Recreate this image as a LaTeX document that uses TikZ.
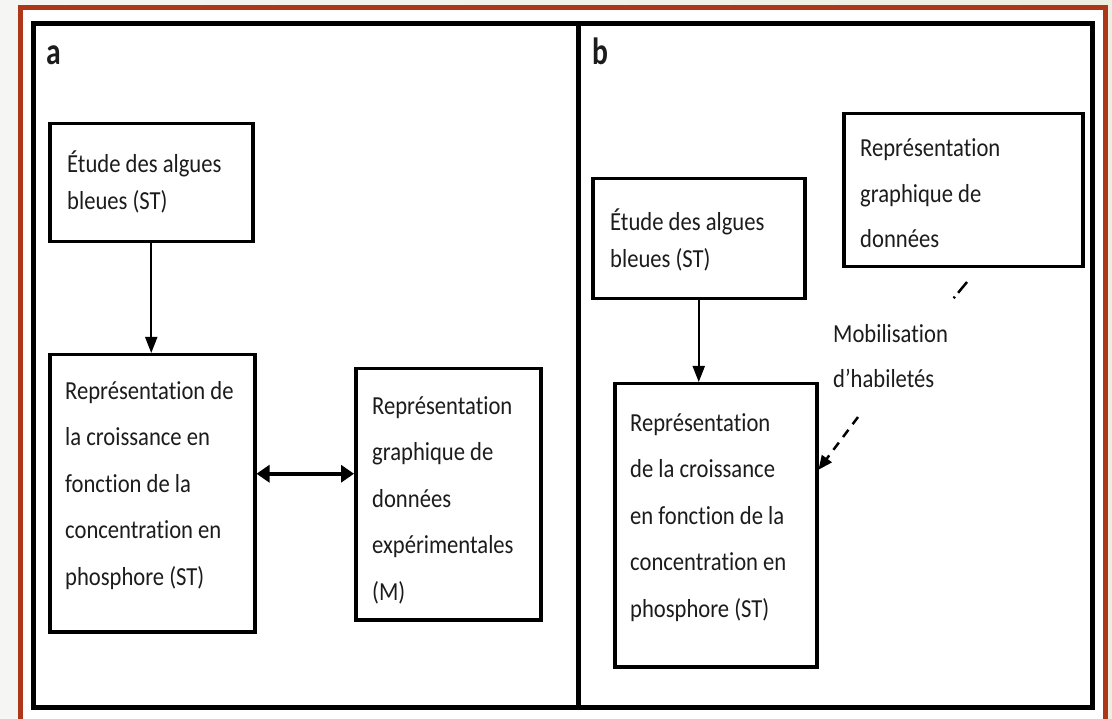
\documentclass[tikz,border=0pt]{standalone}
\usepackage{fontspec}
\setmainfont{Carlito}[FakeStretch=0.87, Ligatures=NoCommon]
\newfontfamily\lettrefont{Carlito}[FakeStretch=0.78]
\usepackage{tikz}
\usetikzlibrary{arrows.meta,calc,positioning}
\definecolor{rouille}{RGB}{175,55,25}
\definecolor{encre}{RGB}{28,28,28}
\definecolor{fondg}{RGB}{245,245,243}
\definecolor{fondd}{RGB}{237,239,224}

\begin{document}
\begin{tikzpicture}[
    x=1pt, y=-1pt,
    bloc/.style={draw, line width=3.5pt, rectangle, inner sep=0, anchor=north west},
    % texte: ancre sur la ligne de base de la derniere ligne
    texte/.style={anchor=base west, align=left, inner sep=0, text=encre, font=\fontsize{26}{46.5}\selectfont},
    texteserre/.style={texte, font=\fontsize{26}{37}\selectfont},
    lettre/.style={anchor=base west, inner sep=0, text=encre, font=\lettrefont\bfseries\fontsize{38}{38}\selectfont},
    fleche/.style={line width=2pt, -{Triangle[length=16pt, width=12pt]}},
    doublefleche/.style={line width=4pt, {Triangle[length=13pt, width=17pt]}-{Triangle[length=13pt, width=17pt]}},
    tirets/.style={line width=2.5pt, dash pattern=on 9pt off 7pt},
  ]
\useasboundingbox (0,0) rectangle (1112,719);
\clip (0,0) rectangle (1112,719);

% fond et cadres
\shade[left color=fondg, right color=fondd] (0,0) rectangle (1112,719);
\draw[rouille, line width=5pt, fill=white] (20.5,7.5) rectangle (1105.5,730);
\draw[line width=5pt] (33,23.5) rectangle (1092,707.5);
\draw[line width=4.5pt] (578.5,23.5) -- (578.5,707.5);

% panneau a
\node[lettre] (la) at (46,65) {a};
\node[bloc, minimum width=203, minimum height=118] (b1) at (48,122) {};
\node[texteserre] (t1) at (67,210) {Étude des algues\\bleues (ST)};
\node[bloc, minimum width=205, minimum height=277] (b2) at (48,353) {};
\node[texte] (t2) at (65,585) {Représentation de\\la croissance en\\fonction de la\\concentration en\\phosphore (ST)};
\node[bloc, minimum width=185, minimum height=251] (b3) at (354,367) {};
\node[texte] (t3) at (372,600) {Représentation\\graphique de\\données\\expérimentales\\(M)};

\draw[fleche] (b1.south) -- (b1.south |- b2.north);
\draw[doublefleche] ([yshift=19.5pt]b2.east) -- ([yshift=19.5pt]b2.east -| b3.west);

% panneau b
\node[lettre] (lb) at (592,65) {b};
\node[bloc, minimum width=212, minimum height=120] (b4) at (591,177) {};
\node[texteserre] (t4) at (610,268) {Étude des algues\\bleues (ST)};
\node[bloc, minimum width=239, minimum height=153] (b5) at (842,112) {};
\node[texte, font=\fontsize{26}{45.5}\selectfont] (t5) at (860,248) {Représentation\\graphique de\\données};
\node[bloc, minimum width=202, minimum height=283] (b6) at (613,382) {};
\node[texte] (t6) at (630,617) {Représentation\\de la croissance\\en fonction de la\\concentration en\\phosphore (ST)};
\node[texte, font=\fontsize{26}{45}\selectfont] (mob) at (833,388) {Mobilisation\\d’habiletés};

\draw[fleche] (b4.south) -- (b4.south |- b6.north);
\coordinate (d1) at (967,282);
\coordinate (d2) at (953,299);
\coordinate (d3) at (858,417);
\draw[tirets, dash pattern=on 14pt off 5pt on 2pt off 20pt] (d1) -- (d2);
\draw[tirets, -{Triangle[length=14pt, width=12pt]}] (d3) -- ([yshift=55.5pt]b6.east);

\end{tikzpicture}
\end{document}
